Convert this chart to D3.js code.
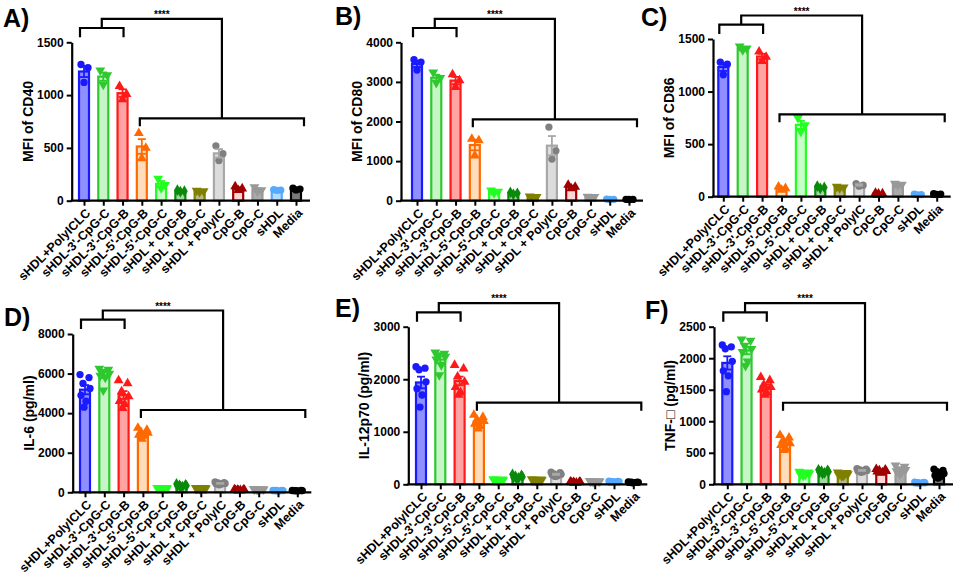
<!DOCTYPE html>
<html>
<head>
<meta charset="utf-8">
<script src="https://cdn.jsdelivr.net/npm/d3@7"></script>
<style>
  body { margin: 0; background: #fff; }
  svg text { font-family: "Liberation Sans", Arial, sans-serif; font-weight: bold; fill: #000; }
</style>
</head>
<body>
<svg id="chart" width="957" height="575"></svg>
<script>
// groups on the x axis (same for every panel)
const groups = ["sHDL+PolyICLC", "sHDL-3'-CpG-C", "sHDL-3'-CpG-B", "sHDL-5'-CpG-B", "sHDL-5'-CpG-C",
  "sHDL + CpG-B", "sHDL + CpG-C", "sHDL + PolyIC", "CpG-B", "CpG-C", "sHDL", "Media"];

// replicate values, one list per group
const cd40 = [[1290, 1260, 1120], [1235, 1190, 1100], [1085, 1010, 960], [640, 500, 400],
  [210, 150, 120], [100, 90, 85], [95, 90, 85], [520, 445, 380], [135, 115, 100],
  [130, 100, 90], [105, 100, 98], [118, 110, 102]];
const cd80 = [[3560, 3500, 3300], [3240, 3100, 2980], [3190, 3040, 2870], [1560, 1520, 1140],
  [260, 230, 195], [210, 185, 160], [110, 100, 95], [1860, 1260, 1050], [400, 350, 310],
  [105, 100, 95], [40, 35, 30], [35, 33, 30]];
const cd86 = [[1280, 1260, 1160], [1430, 1410, 1395], [1380, 1330, 1290], [95, 80, 65],
  [750, 680, 620], [100, 88, 80], [95, 88, 82], [125, 110, 100], [35, 30, 28],
  [125, 115, 110], [25, 20, 18], [28, 25, 22]];
const il6 = [[5950, 5800, 5500, 5250, 4900, 4600, 4300], [6250, 6200, 6100, 6000, 5900, 5800, 5150],
  [5650, 5500, 5100, 4850, 4600, 4450, 4250], [3250, 3150, 3050, 3000, 2900, 2850, 2700],
  [230, 220, 210, 200, 195, 190, 180], [420, 380, 350, 330, 310, 290, 280],
  [230, 220, 210, 200, 195, 185, 175], [520, 490, 470, 450, 430, 410, 380],
  [140, 130, 120, 115, 110, 105, 100], [170, 160, 150, 150, 145, 140, 135],
  [100, 95, 90, 85, 80, 70, 70], [95, 90, 88, 85, 80, 75, 75]];
const il12 = [[2240, 2210, 2180, 1950, 1820, 1700, 1470], [2510, 2490, 2460, 2430, 2380, 2270, 2080],
  [2270, 2200, 2050, 1950, 1850, 1750, 1700], [1320, 1280, 1230, 1200, 1150, 1100, 1060],
  [100, 95, 90, 80, 75, 70, 65], [190, 170, 150, 140, 130, 120, 110],
  [100, 95, 90, 85, 80, 75, 70], [230, 220, 200, 190, 180, 160, 150],
  [50, 45, 40, 38, 35, 30, 28], [65, 60, 58, 55, 52, 50, 48],
  [60, 55, 52, 50, 48, 45, 45], [45, 42, 40, 38, 35, 32, 30]];
const tnf = [[2210, 2180, 2150, 1950, 1800, 1720, 1470], [2300, 2280, 2200, 2150, 2100, 1950, 1880],
  [1700, 1650, 1580, 1540, 1500, 1450, 1420], [780, 740, 700, 650, 620, 560, 540],
  [200, 190, 180, 170, 160, 150, 140], [230, 220, 210, 200, 190, 180, 170],
  [190, 180, 170, 160, 150, 140, 130], [250, 240, 230, 220, 210, 200, 190],
  [240, 230, 220, 210, 200, 190, 180], [300, 280, 240, 230, 210, 190, 160],
  [35, 30, 28, 25, 22, 20, 20], [240, 220, 200, 170, 140, 120, 100]];

// y tick labels
const cd40Ticks = [0, 500, 1000, 1500];
const cd80Ticks = [0, 1000, 2000, 3000, 4000];
const cd86Ticks = [0, 500, 1000, 1500];
const il6Ticks = [0, 2000, 4000, 6000, 8000];
const il12Ticks = [0, 1000, 2000, 3000];
const tnfTicks = [0, 500, 1000, 1500, 2000, 2500];

// level of the lower significance bracket, in data units
const bracketLevels = [780, 2055, 784, 4160, 1553, 1294];

const strokes = ["#1a1aff", "#2ec92e", "#ff1a1a", "#ff6a00", "#22ff22", "#0a8a0a",
  "#7f7f00", "#a8a8a8", "#a00000", "#999999", "#55aaff", "#000000"];
const fills = ["#8f8fff", "#c8f5c8", "#ffa3a3", "#ffdcbc", "#c8ffc8", "#a0d8a0",
  "#b8b888", "#dcdcdc", "#ffd6d6", "#aaaaaa", "#b0dcff", "#7a7a7a"];
const dotColors = ["#1a1aff", "#2ec92e", "#ff1a1a", "#ff6a00", "#22ff22", "#0a8a0a",
  "#7f7f00", "#808080", "#a00000", "#999999", "#55aaff", "#000000"];
const shapes = ["circle", "down", "up", "up", "down", "diamond", "down", "circle", "up", "down", "circle", "circle"];

const panels = [
  { letter: "A)", lx: 3, ly: 27, ylab: "MFI of CD40", values: cd40, ticks: cd40Ticks,
    axisX: 71.7, y0: 200.7, yTop: 42.3, x1: 84, x12: 296 },
  { letter: "B)", lx: 335, ly: 25, ylab: "MFI of CD80", values: cd80, ticks: cd80Ticks,
    axisX: 401, y0: 200.7, yTop: 42.3, x1: 417, x12: 629 },
  { letter: "C)", lx: 641, ly: 26, ylab: "MFI of CD86", values: cd86, ticks: cd86Ticks,
    axisX: 713, y0: 196.7, yTop: 39, x1: 723.3, x12: 936.7 },
  { letter: "D)", lx: 4, ly: 326, ylab: "IL-6 (pg/ml)", values: il6, ticks: il6Ticks,
    axisX: 72.7, y0: 492.3, yTop: 334, x1: 85, x12: 297.3 },
  { letter: "E)", lx: 335, ly: 317, ylab: "IL-12p70 (pg/ml)", values: il12, ticks: il12Ticks,
    axisX: 408.3, y0: 484.3, yTop: 326.7, x1: 421, x12: 633.3 },
  { letter: "F)", lx: 645, ly: 319, ylab: "TNF-\u25A1 (pg/ml)", values: tnf, ticks: tnfTicks,
    axisX: 714, y0: 484.3, yTop: 326.7, x1: 727.3, x12: 939 }
];

const svg = d3.select("#chart");
const barW = 10;
const jit3 = [-3, 4, 0];
const jit7 = [-5, 4, -2, 5, -4, 1, -1];

function symbolPath(kind) {
  if (kind === "circle") return d3.symbol(d3.symbolCircle, 42)();
  if (kind === "diamond") return d3.symbol(d3.symbolDiamond, 40)();
  return d3.symbol(d3.symbolTriangle, 42)();
}

function drawPanel(p, idx) {
  const g = svg.append("g");
  const y = d3.scaleLinear().domain([0, p.ticks[p.ticks.length - 1]]).range([p.y0, p.yTop]);
  const x = d3.scalePoint().domain(groups).range([p.x1, p.x12]);

  const stats = p.values.map((v, i) => ({
    name: groups[i], i: i, v: v,
    mean: d3.mean(v),
    sem: d3.deviation(v) / Math.sqrt(v.length)
  }));

  // bars
  g.selectAll("rect.bar").data(stats).join("rect")
    .attr("class", "bar")
    .attr("x", d => x(d.name) - barW / 2)
    .attr("y", d => y(d.mean))
    .attr("width", barW)
    .attr("height", d => p.y0 - y(d.mean))
    .attr("fill", d => fills[d.i])
    .attr("stroke", d => strokes[d.i])
    .attr("stroke-width", 2.2);

  // replicate dots
  const jit = p.values[0].length === 3 ? jit3 : jit7;
  stats.forEach(d => {
    g.selectAll(null).data(d.v).join("path")
      .attr("d", symbolPath(shapes[d.i]))
      .attr("transform", (v, j) => `translate(${x(d.name) + jit[j]},${y(v)})` + (shapes[d.i] === "down" ? " rotate(180)" : ""))
      .attr("fill", dotColors[d.i]);
  });

  // error bars (mean ± SEM)
  const eb = g.selectAll("g.eb").data(stats).join("g")
    .attr("stroke", d => strokes[d.i]).attr("stroke-width", 1.8);
  eb.append("line")
    .attr("x1", d => x(d.name)).attr("x2", d => x(d.name))
    .attr("y1", d => y(d.mean - d.sem)).attr("y2", d => y(d.mean + d.sem));
  eb.append("line")
    .attr("x1", d => x(d.name) - 4).attr("x2", d => x(d.name) + 4)
    .attr("y1", d => y(d.mean + d.sem)).attr("y2", d => y(d.mean + d.sem));
  eb.append("line")
    .attr("x1", d => x(d.name) - 4).attr("x2", d => x(d.name) + 4)
    .attr("y1", d => y(d.mean - d.sem)).attr("y2", d => y(d.mean - d.sem));

  // y axis
  const ya = g.append("g")
    .attr("transform", `translate(${p.axisX},0)`)
    .call(d3.axisLeft(y).tickValues(p.ticks).tickSize(5).tickSizeOuter(0).tickPadding(3).tickFormat(d3.format("d")));
  ya.select(".domain").attr("stroke-width", 2.2);
  ya.selectAll(".tick line").attr("stroke-width", 2);
  ya.selectAll("text").attr("font-size", 12).attr("font-family", null).attr("fill", "#000");

  // x axis
  const xEnd = x(groups[groups.length - 1]) + 14;
  const xa = g.append("g")
    .attr("transform", `translate(0,${p.y0})`)
    .call(d3.axisBottom(x).tickSize(5).tickSizeOuter(0).tickFormat(""));
  xa.select(".domain").remove();
  xa.selectAll(".tick line").attr("stroke-width", 2);
  g.append("line")
    .attr("x1", p.axisX - 1).attr("x2", xEnd)
    .attr("y1", p.y0).attr("y2", p.y0)
    .attr("stroke", "#000").attr("stroke-width", 2.2);

  g.selectAll("text.xl").data(groups).join("text")
    .attr("class", "xl")
    .attr("transform", d => `translate(${x(d) + 4},${p.y0 + 10}) rotate(-45)`)
    .attr("text-anchor", "end")
    .attr("dy", "0.35em")
    .attr("font-size", 12.5)
    .text(d => d);

  // y label
  g.append("text")
    .attr("transform", `translate(${p.axisX - 44},${(p.y0 + p.yTop) / 2}) rotate(-90)`)
    .attr("text-anchor", "middle")
    .attr("dy", "0.35em")
    .attr("font-size", 14)
    .text(p.ylab);

  // panel letter
  g.append("text").attr("x", p.lx).attr("y", p.ly).attr("font-size", 25).text(p.letter);

  // significance brackets
  const lw = 2.2;
  const sL = x(groups[0]) - 4, sR = x(groups[2]) + 1, sMid = (sL + sR) / 2;
  const sY = p.yTop - 14.3, topY = p.yTop - 23.5;
  const lL = x(groups[3]) - 2, lR = x(groups[11]) + 8, lMid = (lL + lR) / 2;
  const lY = y(bracketLevels[idx]);
  const br = g.append("g").attr("fill", "none").attr("stroke", "#000").attr("stroke-width", lw);
  br.append("path").attr("d", `M${sL},${sY + 9.3}V${sY}H${sR}V${sY + 9.3}`);
  br.append("path").attr("d", `M${lL},${lY + 8}V${lY}H${lR}V${lY + 8}`);
  br.append("path").attr("d", `M${sMid},${sY}V${topY}H${lMid}V${lY}`);
  g.append("text")
    .attr("x", (sMid + lMid) / 2).attr("y", topY - 1)
    .attr("text-anchor", "middle")
    .attr("font-size", 10)
    .text("****");
}

panels.forEach(drawPanel);
</script>
</body>
</html>
